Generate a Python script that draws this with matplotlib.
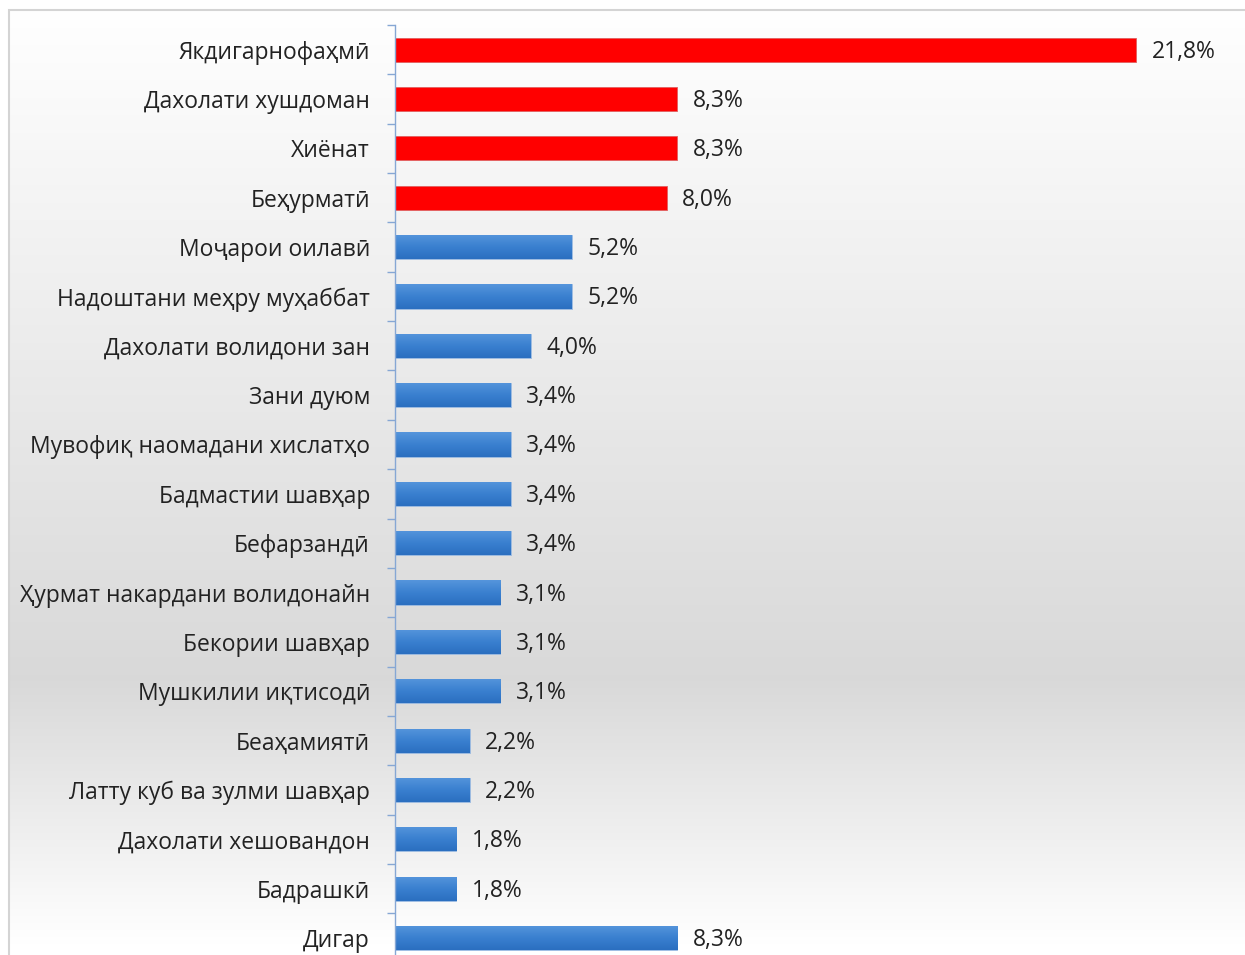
import numpy as np
import matplotlib
matplotlib.use('Agg')
import matplotlib.pyplot as plt
from matplotlib.patches import Rectangle

plt.rcParams['font.family'] = ['Open Sans', 'Noto Sans', 'DejaVu Sans']

categories = [
    'Якдигарнофаҳмӣ', 'Дахолати хушдоман', 'Хиёнат', 'Беҳурматӣ',
    'Моҷарои оилавӣ', 'Надоштани меҳру муҳаббат', 'Дахолати волидони зан',
    'Зани дуюм', 'Мувофиқ наомадани хислатҳо', 'Бадмастии шавҳар',
    'Бефарзандӣ', 'Ҳурмат накардани волидонайн', 'Бекории шавҳар',
    'Мушкилии иқтисодӣ', 'Беаҳамиятӣ', 'Латту куб ва зулми шавҳар',
    'Дахолати хешовандон', 'Бадрашкӣ', 'Дигар',
]
values = [21.8, 8.3, 8.3, 8.0, 5.2, 5.2, 4.0, 3.4, 3.4, 3.4, 3.4,
          3.1, 3.1, 3.1, 2.2, 2.2, 1.8, 1.8, 8.3]
highlight = [True] * 4 + [False] * 15

W, H = 1245, 955
fig = plt.figure(figsize=(W / 100, H / 100), dpi=100)

# background gradient inside the chart frame
bg = fig.add_axes([9 / W, 0, 1 - 9 / W, 1 - 10 / H])
bg.set_axis_off()
ys = np.linspace(10, H, 400)
shade = np.interp(ys, [10, 680, 945], [1.0, 0.85, 1.0])
grad = np.repeat(shade[:, None], 2, axis=1)
bg.imshow(np.dstack([grad, grad, grad]), aspect='auto', extent=[0, 1, 0, 1],
          interpolation='bilinear')
bg.set_xlim(0, 1)
bg.set_ylim(0, 1)
fig.patches.append(Rectangle((9 / W, -0.1), 1.2, 1 - 10 / H + 0.1,
                             transform=fig.transFigure, fill=False,
                             edgecolor='#d4d4d4', lw=1.5))

ax_bottom = (H - 962.7) / H
ax_top = 1 - 25 / H
ax = fig.add_axes([395 / W, ax_bottom, 24.5 * 34 / W, ax_top - ax_bottom])
ax.patch.set_alpha(0)

n = len(categories)
y = np.arange(n)
bar_h = 0.49
blue_grad = np.linspace(0, 1, 50)[:, None]
blue_cmap = matplotlib.colors.LinearSegmentedColormap.from_list(
    'bl', ['#5595dc', '#3a80d0', '#2b6fc0'])

for i, (v, hl) in enumerate(zip(values, highlight)):
    if hl:
        ax.barh(i, v, height=bar_h, color='#ff0000', edgecolor='#e06060', lw=0.6)
    else:
        bar = ax.barh(i, v, height=bar_h, color='none', edgecolor='#8fb3df', lw=0.6)[0]
        im = ax.imshow(blue_grad, cmap=blue_cmap, aspect='auto',
                       extent=[0, v, i + bar_h / 2, i - bar_h / 2], zorder=1.5)
        im.set_clip_path(bar)
    ax.text(v + 0.45, i + 0.04, f'{v:.1f}%'.replace('.', ','), va='center', ha='left',
            fontsize=16.5, color='#222222')

ax.set_xlim(0, 24.5)
ax.set_ylim(n - 0.5, -0.5)
ax.set_yticks(y)
ax.set_yticklabels(categories, fontsize=16.5, color='#222222')
ax.set_yticks(np.arange(n + 1) - 0.5, minor=True)
ax.tick_params(axis='y', which='major', length=0, pad=18)
ax.tick_params(axis='y', which='minor', length=6, color='#86a7d4', width=1)
ax.set_xticks([])
for s in ['top', 'right', 'bottom']:
    ax.spines[s].set_visible(False)
ax.spines['left'].set_color('#86a7d4')
ax.spines['left'].set_linewidth(1)

fig.savefig('out.png', dpi=100)
